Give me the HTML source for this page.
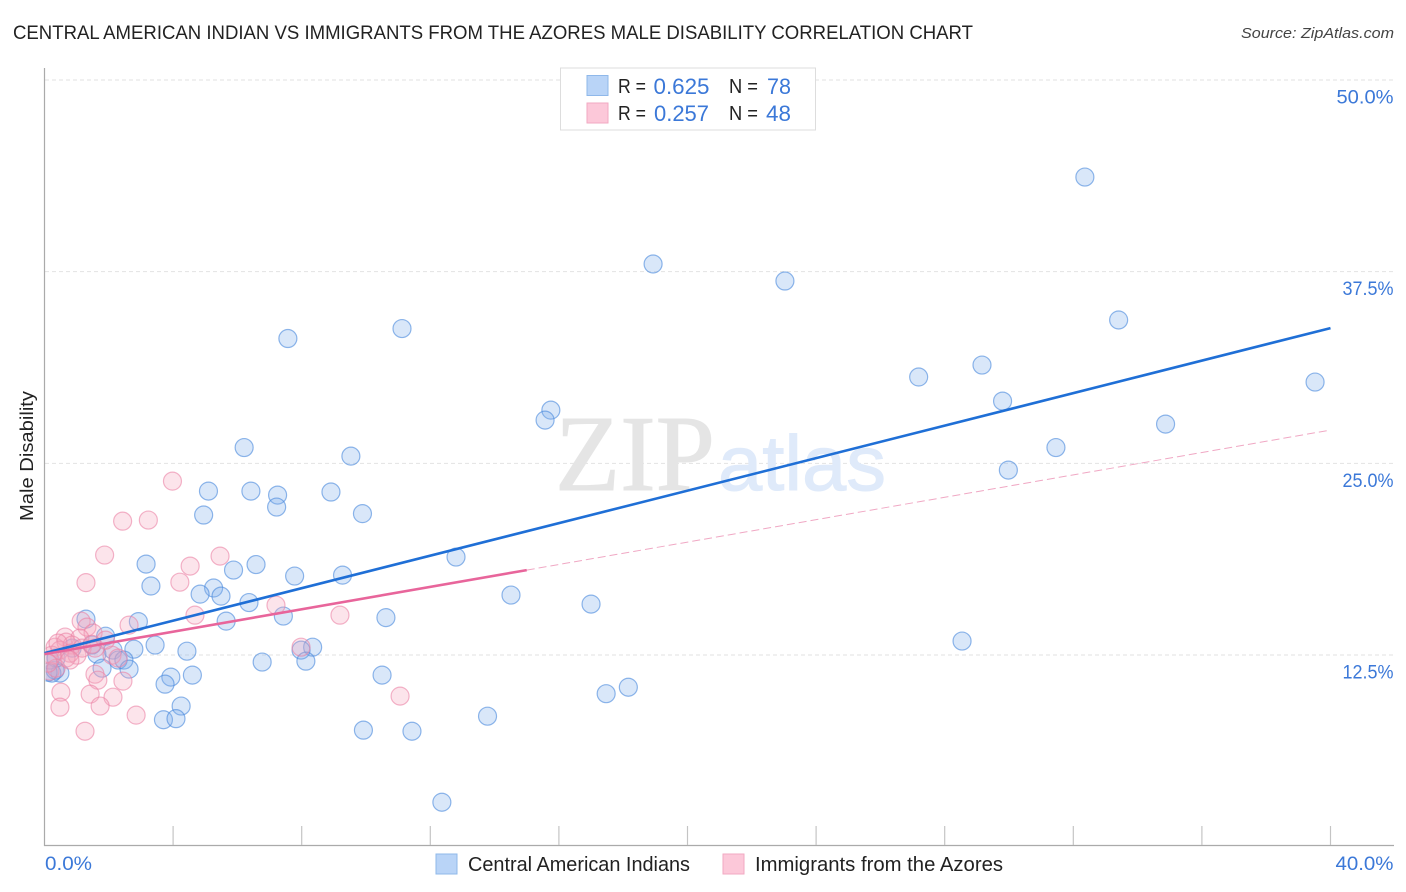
<!DOCTYPE html>
<html lang="en">
<head>
<meta charset="utf-8">
<title>Central American Indian vs Immigrants from the Azores Male Disability Correlation Chart</title>
<style>
html,body{margin:0;padding:0;background:#fff;width:1406px;height:892px;overflow:hidden}
svg{display:block;font-family:"Liberation Sans",sans-serif}
</style>
</head>
<body>
<svg id="chart" xmlns="http://www.w3.org/2000/svg" width="1406" height="892" viewBox="0 0 1406 892">
  <defs>
    <clipPath id="plot-clip"><rect x="45.5" y="68" width="1349" height="778"/></clipPath>
  </defs>
  <text x="13" y="39" font-size="19.5" fill="#222" textLength="960" lengthAdjust="spacingAndGlyphs">CENTRAL AMERICAN INDIAN VS IMMIGRANTS FROM THE AZORES MALE DISABILITY CORRELATION CHART</text>
  <text x="1394" y="38" font-size="15" font-style="italic" fill="#444" text-anchor="end" textLength="153" lengthAdjust="spacingAndGlyphs">Source: ZipAtlas.com</text>
  <g id="grid"></g>
  <g>
    <text x="555" y="490" font-family="'Liberation Serif',serif" font-size="108" fill="#e5e5e5" stroke="#e5e5e5" stroke-width="1" textLength="160" lengthAdjust="spacingAndGlyphs">ZIP</text>
    <text x="718" y="490" font-family="'Liberation Sans',sans-serif" font-size="78" fill="#dfeafa" stroke="#dfeafa" stroke-width="1" textLength="168" lengthAdjust="spacingAndGlyphs">atlas</text>
  </g>
  <g id="axes"></g>
  <g id="points" clip-path="url(#plot-clip)"></g>
  <g id="trends"></g>
  <g id="labels"></g>
  <text transform="translate(33,456) rotate(-90)" font-size="18.5" fill="#222" text-anchor="middle" textLength="130" lengthAdjust="spacingAndGlyphs">Male Disability</text>

  <g>
    <rect x="560.5" y="68" width="255" height="62" fill="#fff" stroke="#ddd" stroke-width="1"/>
    <rect x="587" y="75.5" width="21" height="20" fill="#b9d4f7" stroke="#8fb8ea" stroke-width="1"/>
    <rect x="587" y="103" width="21" height="20" fill="#fcc8d9" stroke="#f2a9c2" stroke-width="1"/>
    <text x="618" y="93" font-size="20" fill="#222" textLength="28" lengthAdjust="spacingAndGlyphs">R =</text>
    <text x="653.5" y="94" font-size="22" fill="#3b78d8" textLength="56" lengthAdjust="spacingAndGlyphs">0.625</text>
    <text x="729" y="93" font-size="20" fill="#222" textLength="29" lengthAdjust="spacingAndGlyphs">N =</text>
    <text x="767" y="94" font-size="22" fill="#3b78d8" textLength="24" lengthAdjust="spacingAndGlyphs">78</text>
    <text x="618" y="120" font-size="20" fill="#222" textLength="28" lengthAdjust="spacingAndGlyphs">R =</text>
    <text x="654" y="121" font-size="22" fill="#3b78d8" textLength="55" lengthAdjust="spacingAndGlyphs">0.257</text>
    <text x="729" y="120" font-size="20" fill="#222" textLength="29" lengthAdjust="spacingAndGlyphs">N =</text>
    <text x="766" y="121" font-size="22" fill="#3b78d8" textLength="25" lengthAdjust="spacingAndGlyphs">48</text>
  </g>

  <g>
    <rect x="436" y="854" width="21" height="20" fill="#b9d4f7" stroke="#8fb8ea" stroke-width="1"/>
    <text x="468" y="871" font-size="20" fill="#222" textLength="222" lengthAdjust="spacingAndGlyphs">Central American Indians</text>
    <rect x="723" y="854" width="21" height="20" fill="#fcc8d9" stroke="#f2a9c2" stroke-width="1"/>
    <text x="755" y="871" font-size="20" fill="#222" textLength="248" lengthAdjust="spacingAndGlyphs">Immigrants from the Azores</text>
  </g>
</svg>
<script>
var blueX = [32.36,18.93,23.03,7.57,11.12,33.41,39.52,27.19,29.16,29.80,34.87,31.46,29.98,15.75,15.57,6.21,9.53,5.10,6.42,7.25,8.91,7.22,4.95,9.89,12.80,3.16,6.58,5.88,7.78,9.27,3.31,5.26,4.84,5.49,6.36,14.51,17.00,10.62,7.43,5.65,2.92,1.29,28.54,1.90,3.44,2.78,1.48,2.13,4.43,8.34,7.98,1.63,2.29,2.47,6.77,8.13,1.79,2.63,3.93,4.60,3.75,10.50,18.16,17.47,4.25,13.78,3.70,4.09,9.92,11.43,12.36,0.48,0.23,0.33,0.17,0.36,0.86,0.11];
var blueY = [43.67,38.00,36.89,33.14,33.79,34.35,30.30,30.63,31.41,29.06,27.56,26.03,24.56,28.47,27.82,26.03,25.47,23.19,23.19,22.93,23.13,22.15,21.63,21.72,18.89,18.43,18.40,18.04,17.65,17.71,17.00,16.87,16.47,16.34,15.92,16.41,15.82,14.94,15.04,14.71,14.68,14.84,13.41,13.73,13.15,12.88,13.15,12.82,12.75,13.01,12.82,12.56,12.17,12.17,12.04,12.10,11.64,11.58,11.06,11.19,10.60,11.19,10.40,9.98,9.17,8.51,8.28,8.35,7.60,7.53,2.90,11.32,11.32,11.51,12.17,12.30,12.95,11.38];
var pinkX = [3.98,2.43,3.23,1.87,5.46,4.53,4.21,1.29,7.20,4.68,9.19,1.14,1.32,2.63,1.51,0.64,1.10,0.33,0.67,0.48,0.86,1.01,0.79,0.67,0.23,1.17,1.57,2.10,2.29,7.98,1.57,1.66,2.44,0.51,1.42,2.13,0.48,1.73,2.85,1.26,11.06,0.17,0.36,0.11,0.79,1.48,0.42,1.90];
var pinkY = [23.84,21.23,21.30,19.02,18.95,18.30,17.25,17.22,15.75,15.10,15.10,14.71,14.32,14.45,13.93,13.67,13.60,13.01,13.34,12.82,13.15,12.49,12.62,12.30,12.49,12.95,12.95,12.49,12.30,13.01,11.25,10.86,10.80,10.08,9.95,9.75,9.10,9.17,8.58,7.53,9.82,11.45,11.64,11.97,12.17,13.20,13.28,13.47];
var blueTrend = [12.62, 33.82];
var pinkTrend = [12.56, 27.17];
var pinkSolidEnd = 15;
var xDomain = [0, 40];
var yDomain = [0, 50];
var yTicks = [12.5, 25, 37.5, 50];
var yTickLabels = ["12.5%", "25.0%", "37.5%", "50.0%"];
var xTickValues = [0,4,8,12,16,20,24,28,32,36,40];
var xEndLabels = ["0.0%", "40.0%"];

var NS = "http://www.w3.org/2000/svg";
function xScale(v){ return 44.5 + (v - xDomain[0]) / (xDomain[1] - xDomain[0]) * 1286; }
function yScale(v){ return 846.7 - (v - yDomain[0]) / (yDomain[1] - yDomain[0]) * 766.7; }
function make(tag, parent, attrs){
  var el = document.createElementNS(NS, tag);
  for (var k in attrs) el.setAttribute(k, attrs[k]);
  parent.appendChild(el);
  return el;
}
var gridG = document.getElementById("grid");
var axesG = document.getElementById("axes");
var pointsG = document.getElementById("points");
var trendsG = document.getElementById("trends");
var labelsG = document.getElementById("labels");

yTicks.forEach(function(t, i){
  var y = yScale(t);
  var line = make("line", gridG, {x1:45, x2:1393, y1:y, y2:y, stroke:"#e2e2e2", "stroke-width":1, "stroke-dasharray":"4 3"});
  
  
  var label = make("text", labelsG, {x:1393.5, y:y + 23.5, "font-size":19, fill:"#3b78d8", "text-anchor":"end", textLength:i === 3 ? 57 : 51, lengthAdjust:"spacingAndGlyphs"});
  label.textContent = yTickLabels[i];
  
  
});

var yAxis = make("line", axesG, {x1:44.5, x2:44.5, y1:68, y2:846, stroke:"#aaa", "stroke-width":1.2});


var xAxis = make("line", axesG, {x1:44, x2:1394, y1:845.5, y2:845.5, stroke:"#aaa", "stroke-width":1.2});



xTickValues.slice(1).forEach(function(t){
  var x = xScale(t);
  var tick = make("line", axesG, {x1:x, x2:x, y1:826, y2:845, stroke:"#c4c4c4", "stroke-width":1.2});
  
  
});

var xLabelStart = make("text", labelsG, {x:45, y:870, "font-size":19, fill:"#3b78d8", textLength:47, lengthAdjust:"spacingAndGlyphs"});
xLabelStart.textContent = xEndLabels[0];


var xLabelEnd = make("text", labelsG, {x:1393.5, y:870, "font-size":19, fill:"#3b78d8", "text-anchor":"end", textLength:58, lengthAdjust:"spacingAndGlyphs"});
xLabelEnd.textContent = xEndLabels[1];



blueX.forEach(function(v, i){
  var c = make("circle", pointsG, {cx:xScale(v), cy:yScale(blueY[i]), r:9, fill:"rgba(130,175,235,0.3)", stroke:"rgba(70,135,220,0.6)", "stroke-width":1.2});
  
  
});
pinkX.forEach(function(v, i){
  var c = make("circle", pointsG, {cx:xScale(v), cy:yScale(pinkY[i]), r:9, fill:"rgba(245,165,190,0.3)", stroke:"rgba(235,130,165,0.6)", "stroke-width":1.2});
  
  
});

function trendY(t, x){ return t[0] + (t[1] - t[0]) * (x - xDomain[0]) / (xDomain[1] - xDomain[0]); }

var blueLine = make("line", trendsG, {x1:xScale(xDomain[0]), y1:yScale(trendY(blueTrend, xDomain[0])), x2:xScale(xDomain[1]), y2:yScale(trendY(blueTrend, xDomain[1])), stroke:"#1f6fd6", "stroke-width":2.6});


var pinkDash = make("line", trendsG, {x1:xScale(pinkSolidEnd), y1:yScale(trendY(pinkTrend, pinkSolidEnd)), x2:xScale(xDomain[1]), y2:yScale(trendY(pinkTrend, xDomain[1])), stroke:"#f0a8c4", "stroke-width":1, "stroke-dasharray":"8 4"});


var pinkSolid = make("line", trendsG, {x1:xScale(xDomain[0]), y1:yScale(trendY(pinkTrend, xDomain[0])), x2:xScale(pinkSolidEnd), y2:yScale(trendY(pinkTrend, pinkSolidEnd)), stroke:"#e8659b", "stroke-width":2.6});


</script>
</body>
</html>
